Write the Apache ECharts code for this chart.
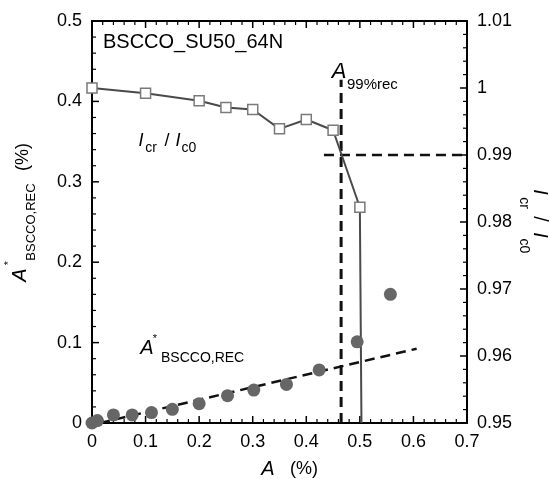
<!DOCTYPE html>
<html>
<head>
<meta charset="utf-8">
<script src="https://cdn.jsdelivr.net/npm/echarts@6/dist/echarts.min.js"></script>
<style>
  html, body { margin: 0; padding: 0; background: #fff; }
  #main { width: 549px; height: 479px; }
</style>
</head>
<body>
<div id="main"></div>
<script>
// I_cr / I_c0 (right axis)
var ratioX = [0, 0.1, 0.2, 0.25, 0.3, 0.35, 0.4, 0.45, 0.5, 0.503]
var ratioY = [1.0, 0.9992, 0.9981, 0.9971, 0.9968, 0.9939, 0.9953, 0.9937, 0.9822, 0.95]
// A*_BSCCO,REC (left axis)
var recX = [0, 0.01, 0.04, 0.075, 0.111, 0.15, 0.2, 0.253, 0.302, 0.363, 0.424, 0.495, 0.557]
var recY = [0, 0.003, 0.01, 0.01, 0.013, 0.017, 0.024, 0.034, 0.041, 0.048, 0.066, 0.101, 0.16]
// dashed fit line
var fitX = [0.015, 0.606]
var fitY = [0, 0.0924]
// A_99%rec guide lines
var a99X = [0.465, 0.465]
var a99Y = [0, 0.427]
var r99X = [0.433, 0.7]
var r99Y = [0.99, 0.99]
// tick values (major), minor ticks split each gap in 5
var xTicks = [0, 0.1, 0.2, 0.3, 0.4, 0.5, 0.6, 0.7]
var leftTicks = [0, 0.1, 0.2, 0.3, 0.4, 0.5]
var rightTicks = [0.95, 0.96, 0.97, 0.98, 0.99, 1.0, 1.01]

var FONT = 'Liberation Sans, Arial, sans-serif'

function pairs (xs, ys) {
  return xs.map(function (x, i) { return [x, ys[i]] })
}

function minorsOf (major) {
  var out = []
  for (var i = 0; i < major.length - 1; i++) {
    var step = (major[i + 1] - major[i]) / 5
    for (var k = 1; k < 5; k++) out.push(major[i] + k * step)
  }
  return out
}

var chartDom = document.getElementById('main')
var myChart = echarts.init(chartDom)

function txt (x, y, s, size, opt) {
  opt = opt || {}
  return {
    type: 'text',
    x: x,
    y: y,
    rotation: opt.rot || 0,
    z: 10,
    style: {
      text: s,
      fill: '#000',
      font: (opt.italic ? 'italic ' : '') + size + 'px ' + FONT,
      align: opt.align || 'center',
      verticalAlign: 'middle'
    }
  }
}

function labels (digits) {
  return {
    color: '#000', fontSize: 18, fontFamily: FONT, margin: 10,
    formatter: function (v) { return String(+v.toFixed(digits)) }
  }
}

function mainAxis (min, max, step, pos, digits) {
  return {
    type: 'value', min: min, max: max, interval: step, position: pos,
    axisLine: { show: true, onZero: false, lineStyle: { color: '#000', width: 2 } },
    axisTick: { show: false },
    minorTick: { show: false },
    splitLine: { show: false },
    axisLabel: digits == null ? { show: false } : labels(digits)
  }
}

function seg (x1, y1, x2, y2, w) {
  return { type: 'line', shape: { x1: x1, y1: y1, x2: x2, y2: y2 }, style: { stroke: '#000', lineWidth: w } }
}

// inward ticks drawn through the axes' own scales
// side: 'x' (bottom + top edges), 'left', 'right'
function tickSeries (values, side, len, w) {
  return {
    type: 'custom',
    xAxisIndex: 0,
    yAxisIndex: side === 'right' ? 1 : 0,
    silent: true,
    clip: false,
    z: 2,
    data: values.map(function (v) { return [v] }),
    renderItem: function (params, api) {
      var v = api.value(0)
      if (side === 'x') {
        var b = api.coord([v, 0])
        var t = api.coord([v, 0.5])
        return { type: 'group', children: [seg(b[0], b[1], b[0], b[1] - len, w), seg(t[0], t[1], t[0], t[1] + len, w)] }
      }
      if (side === 'left') {
        var l = api.coord([0, v])
        return seg(l[0], l[1], l[0] + len, l[1], w)
      }
      var r = api.coord([0.7, v])
      return seg(r[0], r[1], r[0] - len, r[1], w)
    }
  }
}

var option = {
  animation: false,
  grid: { left: 92, right: 82, top: 21, bottom: 56, containLabel: false },
  xAxis: [
    mainAxis(0, 0.7, 0.1, 'bottom', 1),
    mainAxis(0, 0.7, 0.1, 'top', null)
  ],
  yAxis: [
    mainAxis(0, 0.5, 0.1, 'left', 1),
    mainAxis(0.95, 1.01, 0.01, 'right', 2)
  ],
  series: [
    tickSeries(xTicks, 'x', 7, 1.5),
    tickSeries(minorsOf(xTicks), 'x', 4, 1.2),
    tickSeries(leftTicks, 'left', 7, 1.5),
    tickSeries(minorsOf(leftTicks), 'left', 4, 1.2),
    tickSeries(rightTicks, 'right', 7, 1.5),
    tickSeries(minorsOf(rightTicks), 'right', 4, 1.2),
    {
      name: 'fit',
      type: 'line',
      xAxisIndex: 0, yAxisIndex: 0,
      data: pairs(fitX, fitY),
      symbol: 'none',
      lineStyle: { color: '#111', width: 2.5, type: [10, 6] },
      z: 3
    }, {
      name: 'a99',
      type: 'line',
      xAxisIndex: 0, yAxisIndex: 0,
      data: pairs(a99X, a99Y),
      symbol: 'none',
      lineStyle: { color: '#111', width: 3, type: [10, 6] },
      z: 3
    }, {
      name: 'r99',
      type: 'line',
      xAxisIndex: 0, yAxisIndex: 1,
      data: pairs(r99X, r99Y),
      symbol: 'none',
      lineStyle: { color: '#111', width: 2.5, type: [10, 6] },
      z: 3
    }, {
      name: 'ratio',
      type: 'line',
      xAxisIndex: 0, yAxisIndex: 1,
      data: pairs(ratioX, ratioY).map(function (p, i) {
        return i === ratioX.length - 1 ? { value: p, symbol: 'none' } : p
      }),
      symbol: 'rect',
      symbolSize: 10,
      showAllSymbol: true,
      itemStyle: { color: '#fff', borderColor: '#7a7a7a', borderWidth: 1.5 },
      lineStyle: { color: '#4a4a4a', width: 2 },
      z: 4
    }, {
      name: 'rec',
      type: 'scatter',
      xAxisIndex: 0, yAxisIndex: 0,
      data: pairs(recX, recY),
      symbol: 'circle',
      symbolSize: 13,
      itemStyle: { color: '#666', opacity: 1 },
      z: 5
    }
  ],
  graphic: [
    txt(103, 42, 'BSCCO_SU50_64N', 20, { align: 'left' }),
    // I_cr / I_c0 inside
    txt(141, 141, 'I', 18, { italic: true }),
    txt(151, 148, 'cr', 14),
    txt(167, 141, '/', 18),
    txt(178, 141, 'I', 18, { italic: true }),
    txt(189, 148, 'c0', 14),
    // A*_BSCCO,REC inside
    txt(147, 348, 'A', 20, { italic: true }),
    txt(155, 339, '*', 11),
    txt(161, 358, 'BSCCO,REC', 14, { align: 'left' }),
    // A_99%rec
    txt(339, 72, 'A', 22, { italic: true }),
    txt(347, 85, '99%rec', 15, { align: 'left' }),
    // left axis name
    txt(20, 275, 'A', 20, { italic: true, rot: Math.PI / 2 }),
    txt(9, 263, '*', 11, { rot: Math.PI / 2 }),
    txt(31, 222, 'BSCCO,REC', 13, { rot: Math.PI / 2 }),
    txt(23, 157, '(%)', 18, { rot: Math.PI / 2 }),
    // right axis name
    txt(540, 192, 'I', 20, { italic: true, rot: -Math.PI / 2 }),
    txt(524, 203, 'cr', 14, { rot: -Math.PI / 2 }),
    txt(540, 219, '/', 20, { rot: -Math.PI / 2 }),
    txt(540, 235, 'I', 20, { italic: true, rot: -Math.PI / 2 }),
    txt(524, 246, 'c0', 14, { rot: -Math.PI / 2 }),
    // x axis name
    txt(268, 469, 'A', 20, { italic: true }),
    txt(304, 469, '(%)', 18)
  ]
}

myChart.setOption(option)
window.addEventListener('resize', () => myChart.resize())
</script>
</body>
</html>
